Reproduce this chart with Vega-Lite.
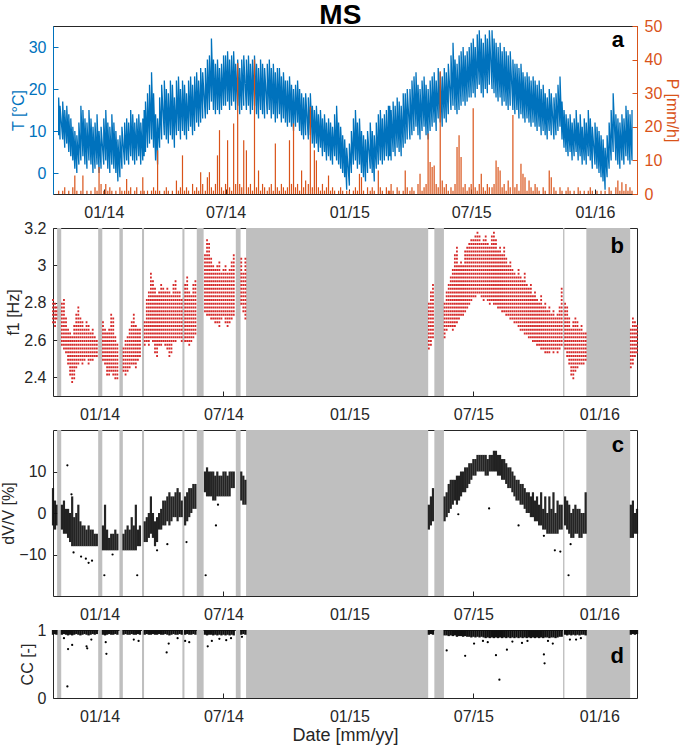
{
"$schema":"https://vega.github.io/schema/vega-lite/v6.json",
"background":"white",
"padding":{"left":0,"top":1,"right":2,"bottom":0},
"title":{"text":"MS","fontSize":28,"fontWeight":"bold","font":"Liberation Sans","color":"#000000","anchor":"middle","offset":-12},
"config":{
 "font":"Liberation Sans",
 "view":{"stroke":"#262626","strokeWidth":1},
 "axis":{"labelFontSize":16,"titleFontSize":16,"labelColor":"#262626","titleColor":"#262626","titleFontWeight":"normal","grid":false,"domain":false,"tickColor":"#262626","tickSize":-5,"labelPadding":12,"titlePadding":2,"labelFont":"Liberation Sans","titleFont":"Liberation Sans"},
 "axisX":{"labelPadding":15}
},
"spacing":34,
"bounds":"flush",
"datasets":{
"g":[
{"s":"2013-10-31","e":"2013-11-06"},{"s":"2013-12-30","e":"2014-01-05"},{"s":"2014-01-30","e":"2014-02-04"},{"s":"2014-03-04","e":"2014-03-07"},{"s":"2014-05-02","e":"2014-05-05"},{"s":"2014-05-23","e":"2014-06-02"},{"s":"2014-07-19","e":"2014-07-26"},{"s":"2014-08-03","e":"2015-04-26"},{"s":"2015-05-05","e":"2015-05-19"},{"s":"2015-11-09","e":"2015-11-11"},{"s":"2015-12-13","e":"2016-02-15"}
],
"tp":[
{"d":"2013-10-26","l":9,"h":18,"p":1},{"d":"2013-10-28","l":8,"h":16,"p":0},
{"d":"2013-11-01","l":8,"h":17,"p":1},{"d":"2013-11-04","l":6,"h":15,"p":2},{"d":"2013-11-07","l":7,"h":16,"p":0},{"d":"2013-11-10","l":5,"h":14,"p":1},{"d":"2013-11-13","l":4,"h":13,"p":0},{"d":"2013-11-16","l":3,"h":11,"p":2},{"d":"2013-11-19","l":1,"h":10,"p":5.5},{"d":"2013-11-22","l":0,"h":9,"p":1},{"d":"2013-11-25","l":2,"h":12,"p":0},{"d":"2013-11-28","l":3,"h":16,"p":1},
{"d":"2013-12-01","l":4,"h":15,"p":5.5},{"d":"2013-12-04","l":2,"h":13,"p":0},{"d":"2013-12-07","l":1,"h":12,"p":1},{"d":"2013-12-10","l":3,"h":15,"p":0},{"d":"2013-12-13","l":2,"h":13,"p":1},{"d":"2013-12-16","l":0,"h":11,"p":0},{"d":"2013-12-19","l":1,"h":12,"p":2},{"d":"2013-12-22","l":2,"h":14,"p":1},{"d":"2013-12-25","l":0,"h":10,"p":8},{"d":"2013-12-28","l":1,"h":11,"p":3},
{"d":"2014-01-01","l":2,"h":13,"p":1},{"d":"2014-01-04","l":3,"h":15,"p":3},{"d":"2014-01-07","l":1,"h":12,"p":1},{"d":"2014-01-10","l":0,"h":11,"p":2},{"d":"2014-01-13","l":2,"h":14,"p":1},{"d":"2014-01-16","l":1,"h":12,"p":0},{"d":"2014-01-19","l":0,"h":10,"p":1},{"d":"2014-01-22","l":-2,"h":8,"p":0},{"d":"2014-01-25","l":-1,"h":9,"p":2},{"d":"2014-01-28","l":1,"h":11,"p":1},
{"d":"2014-02-01","l":2,"h":12,"p":1},{"d":"2014-02-04","l":3,"h":13,"p":4.5},{"d":"2014-02-07","l":2,"h":12,"p":1},{"d":"2014-02-10","l":4,"h":15,"p":2},{"d":"2014-02-13","l":3,"h":14,"p":0},{"d":"2014-02-16","l":2,"h":12,"p":1},{"d":"2014-02-19","l":3,"h":13,"p":2},{"d":"2014-02-22","l":4,"h":14,"p":0},{"d":"2014-02-25","l":2,"h":12,"p":1},{"d":"2014-02-28","l":3,"h":13,"p":5},
{"d":"2014-03-02","l":4,"h":15,"p":1},{"d":"2014-03-04","l":5,"h":17,"p":0},{"d":"2014-03-07","l":6,"h":19,"p":1},{"d":"2014-03-10","l":7,"h":21,"p":0},{"d":"2014-03-13","l":8,"h":24,"p":1},{"d":"2014-03-16","l":6,"h":19,"p":2},{"d":"2014-03-19","l":3,"h":14,"p":1},{"d":"2014-03-22","l":2,"h":13,"p":13},{"d":"2014-03-25","l":6,"h":18,"p":1},{"d":"2014-03-28","l":8,"h":21,"p":0},
{"d":"2014-04-01","l":9,"h":22,"p":1},{"d":"2014-04-04","l":8,"h":20,"p":2},{"d":"2014-04-07","l":7,"h":19,"p":1},{"d":"2014-04-10","l":9,"h":22,"p":0},{"d":"2014-04-13","l":8,"h":21,"p":1},{"d":"2014-04-16","l":6,"h":18,"p":0},{"d":"2014-04-19","l":9,"h":22,"p":4},{"d":"2014-04-22","l":10,"h":23,"p":1},{"d":"2014-04-25","l":8,"h":20,"p":2},{"d":"2014-04-28","l":10,"h":22,"p":11.5},
{"d":"2014-05-01","l":9,"h":21,"p":1},{"d":"2014-05-04","l":8,"h":19,"p":2},{"d":"2014-05-07","l":10,"h":22,"p":1},{"d":"2014-05-10","l":11,"h":23,"p":0},{"d":"2014-05-13","l":9,"h":21,"p":3},{"d":"2014-05-16","l":10,"h":23,"p":1},{"d":"2014-05-19","l":12,"h":24,"p":2},{"d":"2014-05-22","l":11,"h":22,"p":1},{"d":"2014-05-25","l":12,"h":25,"p":6.5},{"d":"2014-05-28","l":13,"h":24,"p":3},
{"d":"2014-06-01","l":13,"h":25,"p":1},{"d":"2014-06-04","l":14,"h":27,"p":5},{"d":"2014-06-07","l":15,"h":28,"p":6.5},{"d":"2014-06-10","l":17,"h":32,"p":2},{"d":"2014-06-13","l":15,"h":27,"p":1},{"d":"2014-06-16","l":14,"h":26,"p":3},{"d":"2014-06-19","l":15,"h":27,"p":11.5},{"d":"2014-06-22","l":14,"h":25,"p":19},{"d":"2014-06-25","l":15,"h":26,"p":2},{"d":"2014-06-28","l":16,"h":28,"p":1},
{"d":"2014-07-01","l":16,"h":28,"p":3},{"d":"2014-07-04","l":17,"h":29,"p":16},{"d":"2014-07-07","l":15,"h":27,"p":2},{"d":"2014-07-10","l":16,"h":28,"p":1},{"d":"2014-07-13","l":17,"h":29,"p":21},{"d":"2014-07-16","l":15,"h":26,"p":3},{"d":"2014-07-19","l":16,"h":27,"p":39},{"d":"2014-07-22","l":14,"h":25,"p":3},{"d":"2014-07-25","l":15,"h":27,"p":2},{"d":"2014-07-28","l":16,"h":28,"p":16},
{"d":"2014-08-01","l":15,"h":27,"p":13},{"d":"2014-08-04","l":16,"h":28,"p":2},{"d":"2014-08-07","l":14,"h":26,"p":3},{"d":"2014-08-10","l":15,"h":27,"p":1},{"d":"2014-08-13","l":16,"h":28,"p":40},{"d":"2014-08-16","l":14,"h":26,"p":2},{"d":"2014-08-19","l":13,"h":25,"p":7},{"d":"2014-08-22","l":15,"h":27,"p":1},{"d":"2014-08-25","l":14,"h":26,"p":3},{"d":"2014-08-28","l":13,"h":25,"p":2},
{"d":"2014-09-01","l":14,"h":26,"p":1},{"d":"2014-09-04","l":15,"h":27,"p":2},{"d":"2014-09-07","l":13,"h":25,"p":3},{"d":"2014-09-10","l":14,"h":26,"p":1},{"d":"2014-09-13","l":12,"h":24,"p":15},{"d":"2014-09-16","l":13,"h":25,"p":2},{"d":"2014-09-19","l":14,"h":25,"p":1},{"d":"2014-09-22","l":12,"h":23,"p":3},{"d":"2014-09-25","l":13,"h":24,"p":2},{"d":"2014-09-28","l":12,"h":22,"p":1},
{"d":"2014-10-01","l":11,"h":22,"p":2},{"d":"2014-10-04","l":12,"h":23,"p":16},{"d":"2014-10-07","l":11,"h":21,"p":3},{"d":"2014-10-10","l":10,"h":20,"p":21},{"d":"2014-10-13","l":11,"h":21,"p":2},{"d":"2014-10-16","l":12,"h":22,"p":3},{"d":"2014-10-19","l":10,"h":20,"p":1},{"d":"2014-10-22","l":9,"h":19,"p":7},{"d":"2014-10-25","l":8,"h":18,"p":2},{"d":"2014-10-28","l":9,"h":19,"p":4},
{"d":"2014-11-01","l":8,"h":18,"p":3},{"d":"2014-11-04","l":9,"h":19,"p":26},{"d":"2014-11-07","l":7,"h":16,"p":2},{"d":"2014-11-10","l":6,"h":15,"p":13},{"d":"2014-11-13","l":7,"h":16,"p":10},{"d":"2014-11-16","l":5,"h":14,"p":2},{"d":"2014-11-19","l":6,"h":15,"p":1},{"d":"2014-11-22","l":4,"h":13,"p":3},{"d":"2014-11-25","l":5,"h":14,"p":1},{"d":"2014-11-28","l":3,"h":12,"p":2},
{"d":"2014-12-01","l":4,"h":13,"p":5.5},{"d":"2014-12-04","l":3,"h":12,"p":1},{"d":"2014-12-07","l":2,"h":11,"p":2},{"d":"2014-12-10","l":4,"h":14,"p":1},{"d":"2014-12-13","l":3,"h":16,"p":0},{"d":"2014-12-16","l":2,"h":12,"p":1},{"d":"2014-12-19","l":1,"h":11,"p":2},{"d":"2014-12-22","l":0,"h":9,"p":1},{"d":"2014-12-25","l":-1,"h":8,"p":0},{"d":"2014-12-28","l":-4,"h":6,"p":1},
{"d":"2015-01-01","l":-3,"h":7,"p":1},{"d":"2015-01-04","l":0,"h":10,"p":0},{"d":"2015-01-07","l":2,"h":13,"p":1},{"d":"2015-01-10","l":3,"h":15,"p":2},{"d":"2015-01-13","l":1,"h":12,"p":1},{"d":"2015-01-16","l":2,"h":13,"p":6},{"d":"2015-01-19","l":0,"h":10,"p":5},{"d":"2015-01-22","l":-1,"h":9,"p":1},{"d":"2015-01-25","l":-2,"h":8,"p":0},{"d":"2015-01-28","l":0,"h":10,"p":2},
{"d":"2015-02-01","l":1,"h":12,"p":1},{"d":"2015-02-04","l":0,"h":10,"p":2},{"d":"2015-02-07","l":-2,"h":9,"p":1},{"d":"2015-02-10","l":1,"h":12,"p":0},{"d":"2015-02-13","l":2,"h":14,"p":7},{"d":"2015-02-16","l":3,"h":15,"p":2},{"d":"2015-02-19","l":2,"h":13,"p":1},{"d":"2015-02-22","l":3,"h":14,"p":0},{"d":"2015-02-25","l":4,"h":15,"p":2},{"d":"2015-02-28","l":3,"h":16,"p":1},
{"d":"2015-03-02","l":4,"h":16,"p":1},{"d":"2015-03-04","l":3,"h":15,"p":3},{"d":"2015-03-07","l":5,"h":17,"p":1},{"d":"2015-03-10","l":4,"h":16,"p":0},{"d":"2015-03-13","l":6,"h":18,"p":2},{"d":"2015-03-16","l":5,"h":17,"p":1},{"d":"2015-03-19","l":4,"h":16,"p":0},{"d":"2015-03-22","l":6,"h":19,"p":1},{"d":"2015-03-25","l":7,"h":19,"p":7},{"d":"2015-03-28","l":8,"h":20,"p":2},
{"d":"2015-04-01","l":8,"h":20,"p":1},{"d":"2015-04-04","l":9,"h":22,"p":2},{"d":"2015-04-07","l":10,"h":23,"p":1},{"d":"2015-04-10","l":11,"h":24,"p":0},{"d":"2015-04-13","l":9,"h":21,"p":3},{"d":"2015-04-16","l":8,"h":20,"p":6},{"d":"2015-04-19","l":10,"h":22,"p":1},{"d":"2015-04-22","l":11,"h":23,"p":2},{"d":"2015-04-25","l":9,"h":21,"p":3},{"d":"2015-04-28","l":8,"h":20,"p":18},
{"d":"2015-05-01","l":10,"h":22,"p":9.5},{"d":"2015-05-04","l":11,"h":23,"p":8},{"d":"2015-05-07","l":12,"h":24,"p":8.5},{"d":"2015-05-10","l":10,"h":22,"p":3},{"d":"2015-05-13","l":13,"h":25,"p":2},{"d":"2015-05-16","l":12,"h":24,"p":36.5},{"d":"2015-05-19","l":11,"h":23,"p":4},{"d":"2015-05-22","l":13,"h":25,"p":2},{"d":"2015-05-25","l":12,"h":24,"p":3},{"d":"2015-05-28","l":14,"h":26,"p":1},
{"d":"2015-06-01","l":15,"h":28,"p":2},{"d":"2015-06-04","l":16,"h":31,"p":1},{"d":"2015-06-07","l":15,"h":27,"p":3},{"d":"2015-06-10","l":14,"h":26,"p":14},{"d":"2015-06-13","l":15,"h":28,"p":17.5},{"d":"2015-06-16","l":16,"h":29,"p":11},{"d":"2015-06-19","l":17,"h":30,"p":2},{"d":"2015-06-22","l":16,"h":28,"p":3},{"d":"2015-06-25","l":17,"h":29,"p":1},{"d":"2015-06-28","l":18,"h":30,"p":2},
{"d":"2015-07-01","l":18,"h":31,"p":3},{"d":"2015-07-04","l":19,"h":32,"p":25.5},{"d":"2015-07-07","l":18,"h":30,"p":2},{"d":"2015-07-10","l":20,"h":33,"p":1},{"d":"2015-07-13","l":21,"h":34,"p":3},{"d":"2015-07-16","l":19,"h":32,"p":6},{"d":"2015-07-19","l":18,"h":31,"p":2},{"d":"2015-07-22","l":20,"h":33,"p":1},{"d":"2015-07-25","l":19,"h":32,"p":3},{"d":"2015-07-28","l":21,"h":34,"p":2},
{"d":"2015-08-01","l":20,"h":34,"p":2},{"d":"2015-08-04","l":19,"h":32,"p":3},{"d":"2015-08-07","l":18,"h":31,"p":10},{"d":"2015-08-10","l":17,"h":30,"p":8},{"d":"2015-08-13","l":18,"h":31,"p":7},{"d":"2015-08-16","l":16,"h":29,"p":2},{"d":"2015-08-19","l":17,"h":30,"p":3},{"d":"2015-08-22","l":16,"h":29,"p":1},{"d":"2015-08-25","l":15,"h":28,"p":4},{"d":"2015-08-28","l":16,"h":29,"p":2},
{"d":"2015-09-01","l":15,"h":27,"p":23.5},{"d":"2015-09-04","l":14,"h":26,"p":2},{"d":"2015-09-07","l":15,"h":26,"p":3},{"d":"2015-09-10","l":13,"h":25,"p":1},{"d":"2015-09-13","l":14,"h":26,"p":9},{"d":"2015-09-16","l":13,"h":24,"p":6},{"d":"2015-09-19","l":12,"h":23,"p":5},{"d":"2015-09-22","l":13,"h":24,"p":1},{"d":"2015-09-25","l":12,"h":23,"p":4},{"d":"2015-09-28","l":11,"h":22,"p":2},
{"d":"2015-10-01","l":12,"h":23,"p":1},{"d":"2015-10-04","l":11,"h":22,"p":3},{"d":"2015-10-07","l":10,"h":21,"p":2},{"d":"2015-10-10","l":11,"h":22,"p":1},{"d":"2015-10-13","l":9,"h":20,"p":0},{"d":"2015-10-16","l":10,"h":21,"p":2},{"d":"2015-10-19","l":9,"h":19,"p":1},{"d":"2015-10-22","l":8,"h":18,"p":0},{"d":"2015-10-25","l":10,"h":20,"p":7},{"d":"2015-10-28","l":9,"h":19,"p":5},
{"d":"2015-11-01","l":8,"h":18,"p":2},{"d":"2015-11-04","l":9,"h":19,"p":1},{"d":"2015-11-07","l":10,"h":21,"p":0},{"d":"2015-11-10","l":11,"h":23,"p":2},{"d":"2015-11-13","l":8,"h":17,"p":1},{"d":"2015-11-16","l":6,"h":15,"p":0},{"d":"2015-11-19","l":5,"h":14,"p":1},{"d":"2015-11-22","l":4,"h":13,"p":2},{"d":"2015-11-25","l":5,"h":14,"p":1},{"d":"2015-11-28","l":3,"h":12,"p":0},
{"d":"2015-12-01","l":4,"h":13,"p":1},{"d":"2015-12-04","l":5,"h":15,"p":0},{"d":"2015-12-07","l":3,"h":12,"p":2},{"d":"2015-12-10","l":4,"h":14,"p":1},{"d":"2015-12-13","l":2,"h":11,"p":0},{"d":"2015-12-16","l":3,"h":13,"p":1},{"d":"2015-12-19","l":2,"h":12,"p":0},{"d":"2015-12-22","l":4,"h":15,"p":1},{"d":"2015-12-25","l":3,"h":13,"p":2},{"d":"2015-12-28","l":1,"h":11,"p":1},
{"d":"2016-01-01","l":2,"h":12,"p":0},{"d":"2016-01-04","l":1,"h":11,"p":1},{"d":"2016-01-07","l":0,"h":10,"p":0},{"d":"2016-01-10","l":-1,"h":9,"p":1},{"d":"2016-01-13","l":-2,"h":8,"p":0},{"d":"2016-01-16","l":-4,"h":6,"p":1},{"d":"2016-01-19","l":-1,"h":9,"p":0},{"d":"2016-01-22","l":1,"h":12,"p":2},{"d":"2016-01-25","l":3,"h":15,"p":1},{"d":"2016-01-28","l":5,"h":19,"p":0},
{"d":"2016-02-01","l":3,"h":14,"p":2},{"d":"2016-02-04","l":2,"h":13,"p":4},{"d":"2016-02-07","l":1,"h":12,"p":1},{"d":"2016-02-10","l":3,"h":14,"p":3.5},{"d":"2016-02-13","l":2,"h":13,"p":1},{"d":"2016-02-16","l":4,"h":16,"p":3},{"d":"2016-02-19","l":3,"h":15,"p":1},{"d":"2016-02-22","l":2,"h":14,"p":2},{"d":"2016-02-25","l":3,"h":15,"p":1}
],
"m":[
{"d":"2013-10-25","fl":2.68,"fh":2.82,"vl":-3,"vh":6,"cl":0.93,"ch":1},{"d":"2013-10-28","fl":2.66,"fh":2.80,"vl":-4,"vh":3,"cl":0.94,"ch":1},{"d":"2013-10-30","fl":2.70,"fh":2.78,"vl":-3,"vh":2,"cl":0.93,"ch":1},
{"d":"2013-11-07","fl":2.56,"fh":2.80,"vl":-4,"vh":2,"cl":0.93,"ch":1},{"d":"2013-11-10","fl":2.54,"fh":2.82,"vl":-5,"vh":3,"cl":0.94,"ch":1},{"d":"2013-11-13","fl":2.52,"fh":2.72,"vl":-5,"vh":1,"cl":0.93,"ch":1},{"d":"2013-11-16","fl":2.46,"fh":2.66,"vl":-6,"vh":1,"cl":0.92,"ch":1},{"d":"2013-11-19","fl":2.40,"fh":2.64,"vl":-7,"vh":0,"cl":0.93,"ch":1},{"d":"2013-11-22","fl":2.36,"fh":2.62,"vl":-8,"vh":4,"cl":0.92,"ch":1},{"d":"2013-11-25","fl":2.38,"fh":2.68,"vl":-8,"vh":-1,"cl":0.93,"ch":1},{"d":"2013-11-28","fl":2.44,"fh":2.74,"vl":-8,"vh":0,"cl":0.94,"ch":1},
{"d":"2013-12-01","fl":2.46,"fh":2.78,"vl":-8,"vh":2,"cl":0.93,"ch":1},{"d":"2013-12-04","fl":2.48,"fh":2.72,"vl":-8,"vh":-2,"cl":0.92,"ch":1},{"d":"2013-12-07","fl":2.46,"fh":2.70,"vl":-8,"vh":-3,"cl":0.93,"ch":1},{"d":"2013-12-10","fl":2.48,"fh":2.66,"vl":-8,"vh":-3,"cl":0.94,"ch":1},{"d":"2013-12-13","fl":2.50,"fh":2.70,"vl":-8,"vh":-4,"cl":0.93,"ch":1},{"d":"2013-12-16","fl":2.46,"fh":2.68,"vl":-8,"vh":-3,"cl":0.92,"ch":1},{"d":"2013-12-19","fl":2.48,"fh":2.64,"vl":-8,"vh":-4,"cl":0.93,"ch":1},{"d":"2013-12-22","fl":2.48,"fh":2.66,"vl":-8,"vh":-4,"cl":0.94,"ch":1},{"d":"2013-12-25","fl":2.50,"fh":2.62,"vl":-8,"vh":-5,"cl":0.93,"ch":1},{"d":"2013-12-28","fl":2.50,"fh":2.60,"vl":-8,"vh":-5,"cl":0.94,"ch":1},
{"d":"2014-01-06","fl":2.48,"fh":2.70,"vl":-9,"vh":-3,"cl":0.93,"ch":1},{"d":"2014-01-09","fl":2.46,"fh":2.66,"vl":-9,"vh":2,"cl":0.92,"ch":1},{"d":"2014-01-12","fl":2.40,"fh":2.64,"vl":-9,"vh":-4,"cl":0.93,"ch":1},{"d":"2014-01-15","fl":2.40,"fh":2.66,"vl":-9,"vh":-6,"cl":0.94,"ch":1},{"d":"2014-01-18","fl":2.42,"fh":2.74,"vl":-9,"vh":-5,"cl":0.93,"ch":1},{"d":"2014-01-21","fl":2.40,"fh":2.72,"vl":-9,"vh":-5,"cl":0.93,"ch":1},{"d":"2014-01-24","fl":2.38,"fh":2.62,"vl":-9,"vh":-4,"cl":0.94,"ch":1},{"d":"2014-01-27","fl":2.38,"fh":2.58,"vl":-9,"vh":-5,"cl":0.93,"ch":1},
{"d":"2014-02-05","fl":2.42,"fh":2.56,"vl":-9,"vh":-5,"cl":0.93,"ch":1},{"d":"2014-02-08","fl":2.40,"fh":2.60,"vl":-9,"vh":-4,"cl":0.94,"ch":1},{"d":"2014-02-11","fl":2.42,"fh":2.62,"vl":-9,"vh":-3,"cl":0.93,"ch":1},{"d":"2014-02-14","fl":2.44,"fh":2.66,"vl":-9,"vh":-4,"cl":0.93,"ch":1},{"d":"2014-02-17","fl":2.46,"fh":2.70,"vl":-9,"vh":-1,"cl":0.94,"ch":1},{"d":"2014-02-20","fl":2.46,"fh":2.74,"vl":-9,"vh":-3,"cl":0.93,"ch":1},{"d":"2014-02-23","fl":2.44,"fh":2.68,"vl":-9,"vh":2,"cl":0.93,"ch":1},{"d":"2014-02-26","fl":2.48,"fh":2.66,"vl":-8,"vh":-4,"cl":0.94,"ch":1},{"d":"2014-03-01","fl":2.50,"fh":2.66,"vl":-8,"vh":-3,"cl":0.93,"ch":1},
{"d":"2014-03-08","fl":2.56,"fh":2.70,"vl":-7,"vh":-2,"cl":0.93,"ch":1},{"d":"2014-03-11","fl":2.58,"fh":2.82,"vl":-7,"vh":-1,"cl":0.94,"ch":1},{"d":"2014-03-14","fl":2.56,"fh":2.86,"vl":-6,"vh":0,"cl":0.93,"ch":1},{"d":"2014-03-17","fl":2.60,"fh":2.96,"vl":-5,"vh":4,"cl":0.93,"ch":1},{"d":"2014-03-20","fl":2.58,"fh":2.92,"vl":-6,"vh":0,"cl":0.94,"ch":1},{"d":"2014-03-23","fl":2.52,"fh":2.88,"vl":-8,"vh":-2,"cl":0.93,"ch":1},{"d":"2014-03-26","fl":2.50,"fh":2.84,"vl":-7,"vh":-1,"cl":0.93,"ch":1},{"d":"2014-03-29","fl":2.56,"fh":2.86,"vl":-4,"vh":0,"cl":0.94,"ch":1},
{"d":"2014-04-01","fl":2.56,"fh":2.90,"vl":-4,"vh":1,"cl":0.93,"ch":1},{"d":"2014-04-04","fl":2.58,"fh":2.88,"vl":-3,"vh":3,"cl":0.93,"ch":1},{"d":"2014-04-07","fl":2.56,"fh":2.86,"vl":-3,"vh":3,"cl":0.94,"ch":1},{"d":"2014-04-10","fl":2.54,"fh":2.88,"vl":-2,"vh":4,"cl":0.93,"ch":1},{"d":"2014-04-13","fl":2.50,"fh":2.86,"vl":-3,"vh":5,"cl":0.92,"ch":1},{"d":"2014-04-16","fl":2.52,"fh":2.84,"vl":-2,"vh":4,"cl":0.93,"ch":1},{"d":"2014-04-19","fl":2.58,"fh":2.90,"vl":-1,"vh":4,"cl":0.94,"ch":1},{"d":"2014-04-22","fl":2.58,"fh":2.92,"vl":-1,"vh":5,"cl":0.93,"ch":1},{"d":"2014-04-25","fl":2.60,"fh":2.86,"vl":-2,"vh":6,"cl":0.93,"ch":1},{"d":"2014-04-28","fl":2.60,"fh":2.86,"vl":-1,"vh":5,"cl":0.94,"ch":1},{"d":"2014-05-01","fl":2.58,"fh":2.82,"vl":-1,"vh":3,"cl":0.93,"ch":1},
{"d":"2014-05-06","fl":2.58,"fh":2.90,"vl":-3,"vh":4,"cl":0.93,"ch":1},{"d":"2014-05-09","fl":2.58,"fh":2.94,"vl":-2,"vh":5,"cl":0.94,"ch":1},{"d":"2014-05-12","fl":2.56,"fh":2.86,"vl":-1,"vh":6,"cl":0.93,"ch":1},{"d":"2014-05-15","fl":2.58,"fh":2.84,"vl":0,"vh":6,"cl":0.93,"ch":1},{"d":"2014-05-18","fl":2.60,"fh":2.90,"vl":1,"vh":7,"cl":0.94,"ch":1},{"d":"2014-05-21","fl":2.62,"fh":2.92,"vl":1,"vh":7,"cl":0.93,"ch":1},
{"d":"2014-06-04","fl":2.74,"fh":3.06,"vl":5,"vh":10,"cl":0.93,"ch":1},{"d":"2014-06-07","fl":2.72,"fh":3.14,"vl":4,"vh":11,"cl":0.92,"ch":1},{"d":"2014-06-10","fl":2.72,"fh":3.12,"vl":4,"vh":10,"cl":0.93,"ch":1},{"d":"2014-06-13","fl":2.70,"fh":3.04,"vl":4,"vh":10,"cl":0.93,"ch":1},{"d":"2014-06-16","fl":2.70,"fh":3.00,"vl":3,"vh":10,"cl":0.92,"ch":1},{"d":"2014-06-19","fl":2.68,"fh":2.98,"vl":3,"vh":9,"cl":0.93,"ch":1},{"d":"2014-06-22","fl":2.68,"fh":3.00,"vl":4,"vh":10,"cl":0.92,"ch":1},{"d":"2014-06-25","fl":2.66,"fh":3.02,"vl":4,"vh":9,"cl":0.93,"ch":1},{"d":"2014-06-28","fl":2.70,"fh":2.96,"vl":4,"vh":9,"cl":0.92,"ch":1},{"d":"2014-07-01","fl":2.72,"fh":2.98,"vl":4,"vh":10,"cl":0.93,"ch":1},{"d":"2014-07-04","fl":2.68,"fh":3.00,"vl":4,"vh":10,"cl":0.92,"ch":1},{"d":"2014-07-07","fl":2.66,"fh":2.96,"vl":4,"vh":9,"cl":0.93,"ch":1},{"d":"2014-07-10","fl":2.68,"fh":2.98,"vl":4,"vh":10,"cl":0.92,"ch":1},{"d":"2014-07-13","fl":2.70,"fh":3.02,"vl":6,"vh":10,"cl":0.93,"ch":1},{"d":"2014-07-16","fl":2.72,"fh":3.06,"vl":6,"vh":10,"cl":0.92,"ch":1},
{"d":"2014-07-27","fl":2.78,"fh":3.04,"vl":3,"vh":10,"cl":0.93,"ch":1},{"d":"2014-07-30","fl":2.74,"fh":2.96,"vl":2,"vh":9,"cl":0.94,"ch":1},{"d":"2014-08-02","fl":2.70,"fh":3.04,"vl":2,"vh":8,"cl":0.93,"ch":1},
{"d":"2015-04-27","fl":2.54,"fh":2.80,"vl":-4,"vh":2,"cl":0.93,"ch":1},{"d":"2015-04-30","fl":2.56,"fh":2.86,"vl":-3,"vh":4,"cl":0.94,"ch":1},{"d":"2015-05-03","fl":2.60,"fh":2.90,"vl":-2,"vh":6,"cl":0.93,"ch":1},
{"d":"2015-05-20","fl":2.60,"fh":2.80,"vl":-2,"vh":4,"cl":0.92,"ch":1},{"d":"2015-05-23","fl":2.64,"fh":2.86,"vl":-1,"vh":5,"cl":0.92,"ch":1},{"d":"2015-05-26","fl":2.66,"fh":2.90,"vl":0,"vh":7,"cl":0.91,"ch":1},{"d":"2015-05-29","fl":2.66,"fh":2.94,"vl":1,"vh":8,"cl":0.92,"ch":1},{"d":"2015-06-01","fl":2.64,"fh":2.98,"vl":2,"vh":8,"cl":0.91,"ch":1},{"d":"2015-06-04","fl":2.66,"fh":3.06,"vl":3,"vh":8,"cl":0.92,"ch":1},{"d":"2015-06-07","fl":2.68,"fh":3.10,"vl":2,"vh":9,"cl":0.90,"ch":1},{"d":"2015-06-10","fl":2.70,"fh":3.00,"vl":3,"vh":9,"cl":0.91,"ch":1},{"d":"2015-06-13","fl":2.72,"fh":3.02,"vl":4,"vh":10,"cl":0.91,"ch":1},{"d":"2015-06-16","fl":2.72,"fh":3.00,"vl":5,"vh":10,"cl":0.90,"ch":1},{"d":"2015-06-19","fl":2.74,"fh":3.08,"vl":5,"vh":11,"cl":0.91,"ch":1},{"d":"2015-06-22","fl":2.76,"fh":3.10,"vl":6,"vh":11,"cl":0.90,"ch":1},{"d":"2015-06-25","fl":2.78,"fh":3.12,"vl":7,"vh":12,"cl":0.90,"ch":1},{"d":"2015-06-28","fl":2.80,"fh":3.14,"vl":8,"vh":12,"cl":0.89,"ch":1},
{"d":"2015-07-01","fl":2.82,"fh":3.14,"vl":9,"vh":13,"cl":0.90,"ch":1},{"d":"2015-07-04","fl":2.82,"fh":3.16,"vl":9,"vh":13,"cl":0.89,"ch":1},{"d":"2015-07-07","fl":2.84,"fh":3.18,"vl":10,"vh":14,"cl":0.90,"ch":1},{"d":"2015-07-10","fl":2.84,"fh":3.16,"vl":10,"vh":14,"cl":0.89,"ch":1},{"d":"2015-07-13","fl":2.82,"fh":3.12,"vl":10,"vh":14,"cl":0.90,"ch":1},{"d":"2015-07-16","fl":2.80,"fh":3.14,"vl":10,"vh":14,"cl":0.89,"ch":1},{"d":"2015-07-19","fl":2.82,"fh":3.16,"vl":9,"vh":14,"cl":0.88,"ch":1},{"d":"2015-07-22","fl":2.80,"fh":3.12,"vl":9,"vh":13,"cl":0.89,"ch":1},{"d":"2015-07-25","fl":2.78,"fh":3.10,"vl":10,"vh":14,"cl":0.88,"ch":1},{"d":"2015-07-28","fl":2.80,"fh":3.16,"vl":10,"vh":14,"cl":0.89,"ch":1},{"d":"2015-07-31","fl":2.78,"fh":3.18,"vl":10,"vh":15,"cl":0.88,"ch":1},
{"d":"2015-08-03","fl":2.78,"fh":3.14,"vl":10,"vh":15,"cl":0.89,"ch":1},{"d":"2015-08-06","fl":2.76,"fh":3.08,"vl":9,"vh":14,"cl":0.88,"ch":1},{"d":"2015-08-09","fl":2.76,"fh":3.10,"vl":9,"vh":14,"cl":0.89,"ch":1},{"d":"2015-08-12","fl":2.74,"fh":3.06,"vl":8,"vh":13,"cl":0.88,"ch":1},{"d":"2015-08-15","fl":2.74,"fh":3.10,"vl":8,"vh":13,"cl":0.89,"ch":1},{"d":"2015-08-18","fl":2.72,"fh":3.04,"vl":7,"vh":12,"cl":0.88,"ch":1},{"d":"2015-08-21","fl":2.72,"fh":3.00,"vl":6,"vh":11,"cl":0.89,"ch":1},{"d":"2015-08-24","fl":2.70,"fh":3.02,"vl":6,"vh":11,"cl":0.88,"ch":1},{"d":"2015-08-27","fl":2.70,"fh":2.98,"vl":5,"vh":10,"cl":0.89,"ch":1},{"d":"2015-08-30","fl":2.68,"fh":2.96,"vl":4,"vh":9,"cl":0.88,"ch":1},
{"d":"2015-09-02","fl":2.68,"fh":2.94,"vl":3,"vh":8,"cl":0.89,"ch":1},{"d":"2015-09-05","fl":2.66,"fh":2.98,"vl":3,"vh":8,"cl":0.88,"ch":1},{"d":"2015-09-08","fl":2.64,"fh":2.94,"vl":2,"vh":7,"cl":0.89,"ch":1},{"d":"2015-09-11","fl":2.64,"fh":2.92,"vl":2,"vh":7,"cl":0.88,"ch":1},{"d":"2015-09-14","fl":2.62,"fh":2.96,"vl":1,"vh":6,"cl":0.89,"ch":1},{"d":"2015-09-17","fl":2.62,"fh":2.90,"vl":0,"vh":5,"cl":0.88,"ch":1},{"d":"2015-09-20","fl":2.60,"fh":2.88,"vl":0,"vh":5,"cl":0.89,"ch":1},{"d":"2015-09-23","fl":2.60,"fh":2.90,"vl":-1,"vh":4,"cl":0.88,"ch":1},{"d":"2015-09-26","fl":2.58,"fh":2.84,"vl":-1,"vh":5,"cl":0.89,"ch":1},{"d":"2015-09-29","fl":2.58,"fh":2.86,"vl":-2,"vh":3,"cl":0.88,"ch":1},
{"d":"2015-10-02","fl":2.56,"fh":2.82,"vl":-2,"vh":4,"cl":0.89,"ch":1},{"d":"2015-10-05","fl":2.56,"fh":2.80,"vl":-3,"vh":2,"cl":0.88,"ch":1},{"d":"2015-10-08","fl":2.54,"fh":2.84,"vl":-3,"vh":5,"cl":0.89,"ch":1},{"d":"2015-10-11","fl":2.54,"fh":2.78,"vl":-4,"vh":1,"cl":0.88,"ch":1},{"d":"2015-10-14","fl":2.52,"fh":2.80,"vl":-4,"vh":4,"cl":0.89,"ch":1},{"d":"2015-10-17","fl":2.52,"fh":2.76,"vl":-5,"vh":0,"cl":0.89,"ch":1},{"d":"2015-10-20","fl":2.52,"fh":2.78,"vl":-5,"vh":4,"cl":0.88,"ch":1},{"d":"2015-10-23","fl":2.54,"fh":2.74,"vl":-5,"vh":1,"cl":0.89,"ch":1},{"d":"2015-10-26","fl":2.52,"fh":2.76,"vl":-5,"vh":5,"cl":0.89,"ch":1},{"d":"2015-10-29","fl":2.54,"fh":2.72,"vl":-5,"vh":0,"cl":0.88,"ch":1},{"d":"2015-11-01","fl":2.52,"fh":2.74,"vl":-5,"vh":3,"cl":0.89,"ch":1},{"d":"2015-11-04","fl":2.54,"fh":2.78,"vl":-4,"vh":2,"cl":0.90,"ch":1},{"d":"2015-11-07","fl":2.56,"fh":2.88,"vl":-4,"vh":2,"cl":0.90,"ch":1},
{"d":"2015-11-12","fl":2.54,"fh":2.80,"vl":-3,"vh":4,"cl":0.93,"ch":1},{"d":"2015-11-15","fl":2.50,"fh":2.78,"vl":-4,"vh":3,"cl":0.92,"ch":1},{"d":"2015-11-18","fl":2.46,"fh":2.72,"vl":-5,"vh":2,"cl":0.93,"ch":1},{"d":"2015-11-21","fl":2.40,"fh":2.66,"vl":-6,"vh":0,"cl":0.92,"ch":1},{"d":"2015-11-24","fl":2.38,"fh":2.70,"vl":-6,"vh":1,"cl":0.93,"ch":1},{"d":"2015-11-27","fl":2.42,"fh":2.72,"vl":-5,"vh":2,"cl":0.92,"ch":1},{"d":"2015-11-30","fl":2.44,"fh":2.70,"vl":-5,"vh":1,"cl":0.93,"ch":1},{"d":"2015-12-03","fl":2.46,"fh":2.66,"vl":-6,"vh":1,"cl":0.92,"ch":1},{"d":"2015-12-06","fl":2.46,"fh":2.68,"vl":-6,"vh":0,"cl":0.93,"ch":1},{"d":"2015-12-09","fl":2.46,"fh":2.64,"vl":-5,"vh":0,"cl":0.93,"ch":1},{"d":"2015-12-12","fl":2.48,"fh":2.64,"vl":-5,"vh":5,"cl":0.92,"ch":1},
{"d":"2016-02-16","fl":2.44,"fh":2.66,"vl":-6,"vh":2,"cl":0.93,"ch":1},{"d":"2016-02-19","fl":2.46,"fh":2.72,"vl":-6,"vh":3,"cl":0.94,"ch":1},{"d":"2016-02-22","fl":2.50,"fh":2.70,"vl":-5,"vh":0,"cl":0.93,"ch":1},{"d":"2016-02-25","fl":2.52,"fh":2.68,"vl":-5,"vh":1,"cl":0.94,"ch":1}
],
"vo":[
{"d":"2013-11-15","v":11.5},{"d":"2013-11-21","v":4.5},{"d":"2013-11-24","v":-9.5},{"d":"2013-12-05","v":-10.5},{"d":"2013-12-12","v":-11},{"d":"2013-12-16","v":-12},{"d":"2013-12-21","v":-11.5},{"d":"2014-01-08","v":-15},{"d":"2014-01-20","v":-10},{"d":"2014-02-25","v":-15},{"d":"2014-03-26","v":-9},{"d":"2014-04-10","v":-7.5},{"d":"2014-05-08","v":-7},{"d":"2014-06-05","v":-15},{"d":"2014-06-20","v":-3},{"d":"2014-06-23","v":2},{"d":"2015-06-09","v":-0.3},{"d":"2015-07-24","v":1.1},{"d":"2015-09-05","v":-3},{"d":"2015-10-12","v":-5.5},{"d":"2015-10-28","v":-9},{"d":"2015-11-05","v":-9.3},{"d":"2015-11-17","v":-15},{"d":"2015-11-20","v":-7.5}
],
"co":[
{"d":"2013-11-15","c":0.17},{"d":"2013-11-16","c":0.72},{"d":"2013-11-22","c":0.78},{"d":"2013-11-10","c":0.88},{"d":"2013-12-13","c":0.76},{"d":"2013-12-14","c":0.73},{"d":"2013-12-20","c":0.86},{"d":"2014-01-10","c":0.82},{"d":"2014-01-11","c":0.65},{"d":"2014-02-20","c":0.86},{"d":"2014-02-27","c":0.84},{"d":"2014-04-09","c":0.67},{"d":"2014-04-12","c":0.80},{"d":"2014-04-25","c":0.88},{"d":"2014-05-06","c":0.84},{"d":"2014-05-12","c":0.82},{"d":"2014-06-08","c":0.76},{"d":"2014-06-14","c":0.84},{"d":"2014-06-25","c":0.87},{"d":"2014-07-05","c":0.85},{"d":"2014-07-12","c":0.88},{"d":"2014-07-28","c":0.90},{"d":"2015-05-23","c":0.70},{"d":"2015-06-19","c":0.62},{"d":"2015-07-02","c":0.80},{"d":"2015-07-15","c":0.84},{"d":"2015-07-22","c":0.82},{"d":"2015-08-03","c":0.63},{"d":"2015-08-08","c":0.27},{"d":"2015-08-19","c":0.71},{"d":"2015-08-27","c":0.83},{"d":"2015-09-10","c":0.81},{"d":"2015-09-18","c":0.84},{"d":"2015-10-12","c":0.64},{"d":"2015-10-13","c":0.51},{"d":"2015-10-18","c":0.84},{"d":"2015-10-25","c":0.80},{"d":"2015-11-19","c":0.86},{"d":"2015-11-28","c":0.86},{"d":"2015-12-05","c":0.88}
]
},
"vconcat":[
{
 "width":584,"height":168,
 "title":{"text":"a","anchor":"end","frame":"group","offset":-34,"dx":-13,"fontSize":22,"fontWeight":"bold","color":"#000000"},
 "data":{"name":"tp"},
 "layer":[
  {"mark":{"type":"line","color":"#0072BD","strokeWidth":1.3},
   "transform":[{"fold":["l","h"],"as":["k","t"]}],
   "encoding":{
    "x":{"field":"d","type":"temporal","scale":{"type":"utc","domain":[{"year":2013,"month":10,"date":25,"utc":true},{"year":2016,"month":2,"date":25,"utc":true}]},
      "axis":{"title":null,"format":"%m/%y","values":[{"year":2014,"month":1,"date":1,"utc":true},{"year":2014,"month":7,"date":1,"utc":true},{"year":2015,"month":1,"date":1,"utc":true},{"year":2015,"month":7,"date":1,"utc":true},{"year":2016,"month":1,"date":1,"utc":true}]}},
    "y":{"field":"t","type":"quantitative","scale":{"domain":[-5,35]},"axis":{"orient":"left","title":"T [°C]","values":[0,10,20,30],"labelColor":"#0072BD","titleColor":"#0072BD","tickColor":"#0072BD","domain":true,"domainColor":"#0072BD"}}}},
  {"mark":{"type":"bar","color":"#D95319","width":1.2},
   "transform":[{"filter":"datum.p>0"}],
   "encoding":{
    "x":{"field":"d","type":"temporal"},
    "y":{"field":"p","type":"quantitative","scale":{"domain":[0,50]},"axis":{"orient":"right","title":"P [mm/h]","values":[0,10,20,30,40,50],"labelColor":"#D95319","titleColor":"#D95319","tickColor":"#D95319","domain":true,"domainColor":"#D95319"}}}}
 ],
 "resolve":{"scale":{"y":"independent"}}
},
{
 "width":584,"height":168,
 "title":{"text":"b","anchor":"end","frame":"group","offset":-38,"dx":-13,"fontSize":22,"fontWeight":"bold","color":"#000000"},
 "layer":[
  {"data":{"name":"g"},"mark":{"type":"rect","color":"#bfbfbf"},
   "encoding":{
    "x":{"field":"s","type":"temporal","scale":{"type":"utc","domain":[{"year":2013,"month":10,"date":25,"utc":true},{"year":2016,"month":2,"date":25,"utc":true}]},
      "axis":{"title":null,"format":"%m/%y","values":[{"year":2014,"month":1,"date":1,"utc":true},{"year":2014,"month":7,"date":1,"utc":true},{"year":2015,"month":1,"date":1,"utc":true},{"year":2015,"month":7,"date":1,"utc":true},{"year":2016,"month":1,"date":1,"utc":true}]}},
    "x2":{"field":"e"}}},
  {"data":{"name":"m"},"mark":{"type":"rule","color":"#d62b2b","strokeWidth":1.8,"strokeDash":[2,1.733]},
   "encoding":{
    "x":{"field":"d","type":"temporal"},
    "y":{"field":"fh","type":"quantitative","scale":{"domain":[2.3,3.2]},"axis":{"title":"f1 [Hz]","values":[2.4,2.6,2.8,3,3.2],"format":"~g"}},
    "y2":{"field":"fl"}}}
 ]
},
{
 "width":584,"height":166,
 "title":{"text":"c","anchor":"end","frame":"group","offset":-27,"dx":-13,"fontSize":22,"fontWeight":"bold","color":"#000000"},
 "layer":[
  {"data":{"name":"g"},"mark":{"type":"rect","color":"#bfbfbf"},
   "encoding":{
    "x":{"field":"s","type":"temporal","scale":{"type":"utc","domain":[{"year":2013,"month":10,"date":25,"utc":true},{"year":2016,"month":2,"date":25,"utc":true}]},
      "axis":{"title":null,"format":"%m/%y","values":[{"year":2014,"month":1,"date":1,"utc":true},{"year":2014,"month":7,"date":1,"utc":true},{"year":2015,"month":1,"date":1,"utc":true},{"year":2015,"month":7,"date":1,"utc":true},{"year":2016,"month":1,"date":1,"utc":true}]}},
    "x2":{"field":"e"}}},
  {"data":{"name":"m"},"mark":{"type":"rule","color":"#111111","strokeWidth":2.2,"opacity":0.92},
   "encoding":{
    "x":{"field":"d","type":"temporal"},
    "y":{"field":"vh","type":"quantitative","scale":{"domain":[-16,16]},"axis":{"title":"dV/V [%]","values":[-10,0,10]}},
    "y2":{"field":"vl"}}},
  {"data":{"name":"vo"},"mark":{"type":"circle","color":"#000000","size":5,"opacity":1},
   "encoding":{"x":{"field":"d","type":"temporal"},"y":{"field":"v","type":"quantitative"}}}
 ]
},
{
 "width":584,"height":68,
 "title":{"text":"d","anchor":"end","frame":"group","offset":-46,"dx":-13,"fontSize":22,"fontWeight":"bold","color":"#000000"},
 "layer":[
  {"data":{"name":"g"},"mark":{"type":"rect","color":"#bfbfbf"},
   "encoding":{
    "x":{"field":"s","type":"temporal","scale":{"type":"utc","domain":[{"year":2013,"month":10,"date":25,"utc":true},{"year":2016,"month":2,"date":25,"utc":true}]},
      "axis":{"title":"Date [mm/yy]","titleFontSize":18,"titlePadding":2,"format":"%m/%y","values":[{"year":2014,"month":1,"date":1,"utc":true},{"year":2014,"month":7,"date":1,"utc":true},{"year":2015,"month":1,"date":1,"utc":true},{"year":2015,"month":7,"date":1,"utc":true},{"year":2016,"month":1,"date":1,"utc":true}]}},
    "x2":{"field":"e"}}},
  {"data":{"name":"m"},"mark":{"type":"rule","color":"#111111","strokeWidth":2.3},
   "encoding":{
    "x":{"field":"d","type":"temporal"},
    "y":{"field":"ch","type":"quantitative","scale":{"domain":[0,1]},"axis":{"title":"CC [-]","values":[0,0.5,1],"format":"~g"}},
    "y2":{"field":"cl"}}},
  {"data":{"name":"co"},"mark":{"type":"circle","color":"#000000","size":5,"opacity":1},
   "encoding":{"x":{"field":"d","type":"temporal"},"y":{"field":"c","type":"quantitative"}}}
 ]
}
]
}
